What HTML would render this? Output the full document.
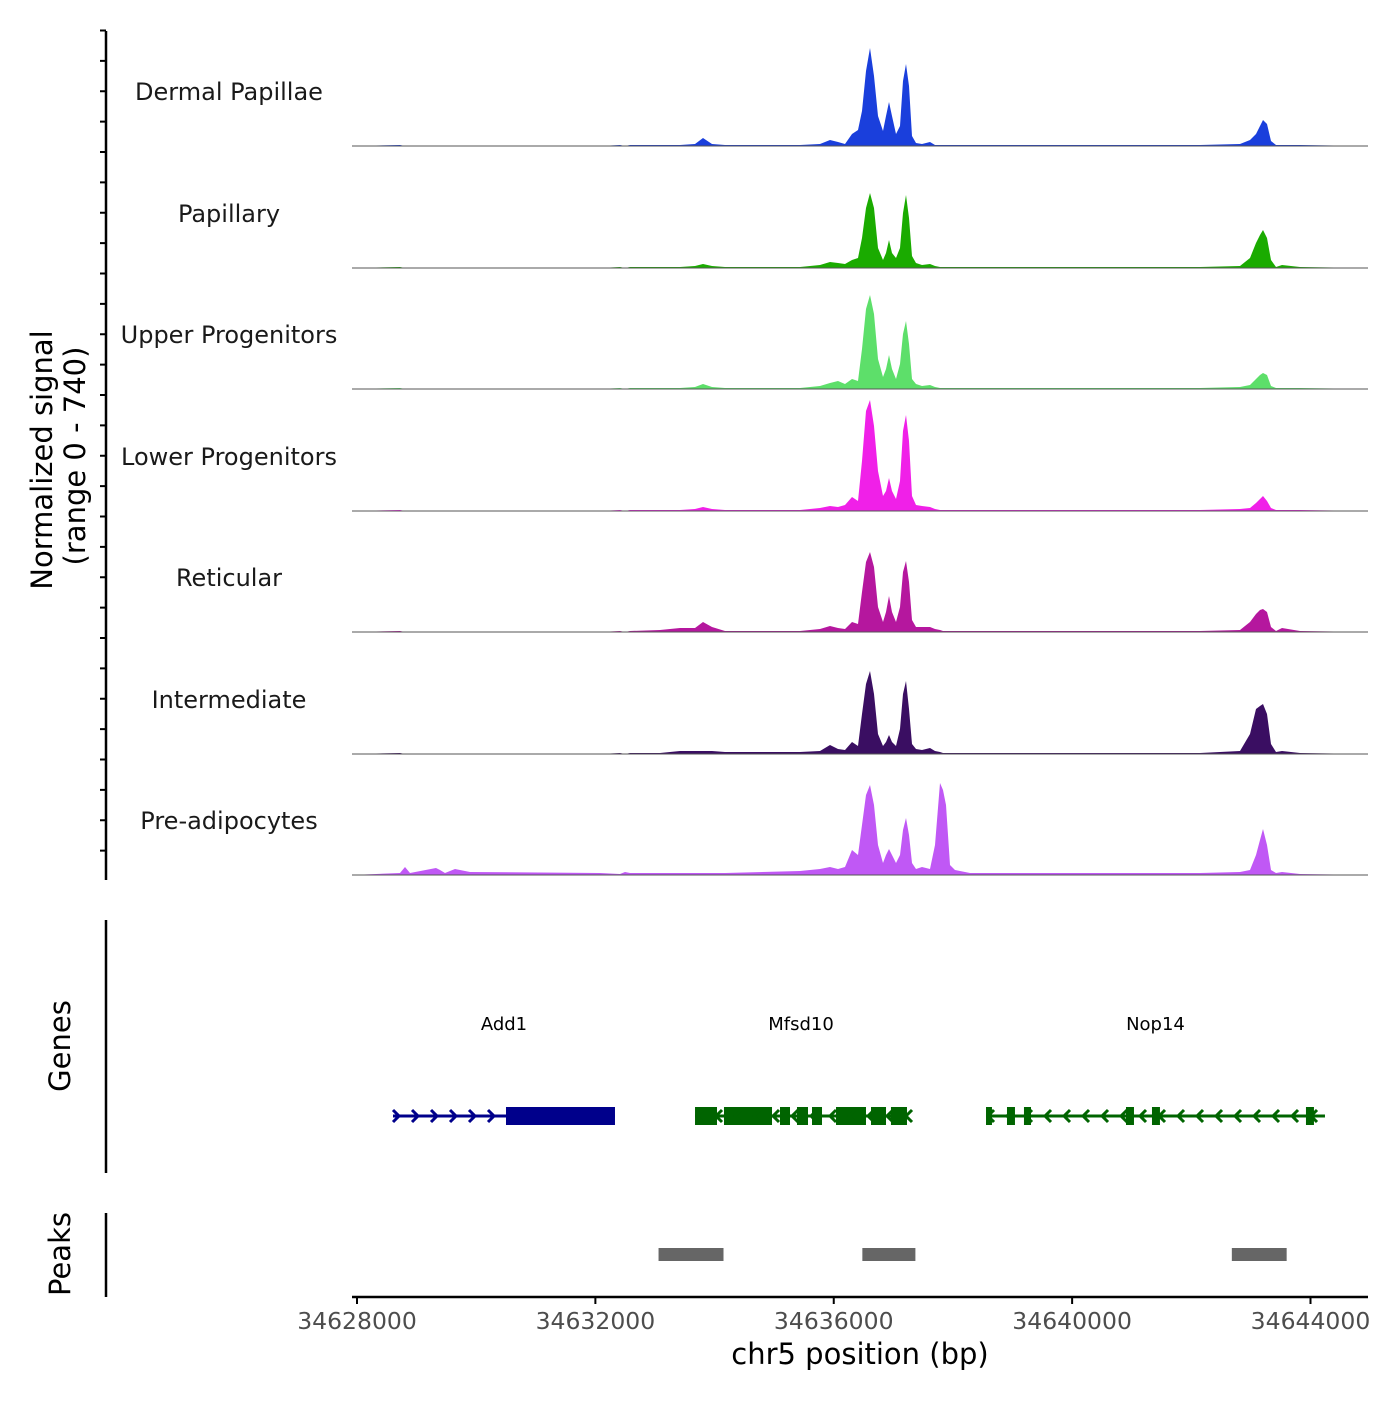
<!DOCTYPE html>
<html><head><meta charset="utf-8">
<style>
html,body{margin:0;padding:0;background:#fff;}
svg text{font-family:"DejaVu Sans","Liberation Sans",sans-serif;}
</style></head>
<body>
<svg id="chart" width="1400" height="1400" viewBox="0 0 1400 1400" xmlns="http://www.w3.org/2000/svg">
<g id="tracks"></g>
<g id="genes"></g>
<g id="peaks"></g>
<g id="axes"></g>
<text transform="translate(52,460) rotate(-90)" text-anchor="middle" font-size="29" fill="#000">Normalized signal</text>
<text transform="translate(85,456) rotate(-90)" text-anchor="middle" font-size="29" fill="#000">(range 0 - 740)</text>
<text transform="translate(70,1046) rotate(-90)" text-anchor="middle" font-size="29" fill="#000">Genes</text>
<text transform="translate(70,1254) rotate(-90)" text-anchor="middle" font-size="29" fill="#000">Peaks</text>
<text x="860" y="1364" text-anchor="middle" font-size="29" fill="#000">chr5 position (bp)</text>
</svg>
<script>
const positions = [34627916,34628722,34628805,34628889,34629326,34629393,34629477,34629644,34629896,34632078,34632413,34632497,34632581,34633084,34633420,34633672,34633806,34633957,34634175,34635434,34635770,34635937,34636071,34636189,34636306,34636407,34636474,34636541,34636608,34636675,34636742,34636826,34636877,34636927,34636977,34637044,34637112,34637162,34637212,34637263,34637313,34637380,34637481,34637615,34637699,34637783,34637833,34637883,34637951,34638034,34638286,34638790,34642146,34642817,34642985,34643085,34643153,34643203,34643270,34643337,34643421,34643522,34643824,34644965];
const trackNames = ["Dermal Papillae","Papillary","Upper Progenitors","Lower Progenitors","Reticular","Intermediate","Pre-adipocytes"];
const trackColors = ["#1a3fdc","#1aab00","#5ddf6a","#f020e8","#b5179e","#3a0e62","#c058f5"];
const dermalPapillae = [0,6,0,0,0,0,0,0,0,0,6,0,6,6,6,12,48,12,6,6,12,36,24,12,72,96,210,450,588,420,180,90,180,264,180,72,120,390,492,360,60,18,12,24,6,6,6,6,6,6,6,6,6,12,36,72,120,156,132,30,6,6,6,0];
const papillary = [0,6,0,0,0,0,0,0,0,0,6,0,6,6,6,12,24,12,6,6,18,36,30,24,48,60,180,360,450,360,120,48,90,168,90,60,120,330,438,300,72,30,18,24,12,6,6,6,6,6,6,6,6,12,60,150,198,228,180,48,6,18,6,0];
const upperProgenitors = [0,6,0,0,0,0,0,0,0,0,6,0,6,6,6,12,30,12,6,6,18,36,48,30,60,48,240,480,564,450,180,72,120,204,120,60,150,330,408,270,60,30,18,24,12,6,6,6,6,6,6,6,6,12,24,60,84,96,84,18,6,6,6,0];
const lowerProgenitors = [0,6,0,0,0,0,0,0,0,0,6,0,6,6,6,12,24,12,6,6,18,30,24,36,84,60,300,600,666,510,240,90,120,198,120,72,180,480,576,420,90,36,30,24,12,6,6,6,6,6,6,6,6,12,18,48,72,90,60,18,6,6,6,0];
const reticular = [0,6,0,0,0,0,0,0,0,0,6,0,6,12,24,24,60,30,6,6,18,36,24,18,60,48,240,420,480,390,150,60,120,216,120,60,150,360,426,300,72,30,30,30,18,12,6,6,6,6,6,6,6,12,60,108,132,138,120,30,6,24,6,0];
const intermediate = [0,6,0,0,0,0,0,0,0,0,6,0,6,6,18,18,18,18,12,12,18,54,30,24,72,48,240,420,498,360,120,48,72,114,72,48,150,360,438,270,60,30,24,36,18,12,6,6,6,6,6,6,6,18,120,270,288,300,240,60,12,18,6,0];
const preAdipocytes = [0,12,48,12,42,30,12,36,18,12,6,18,12,12,12,12,12,12,12,24,36,48,36,48,150,120,300,480,540,420,180,72,120,156,120,72,120,270,342,240,72,36,48,36,180,552,510,420,60,30,12,12,12,18,30,120,210,276,180,30,12,18,6,0];
const trackValues = [dermalPapillae,papillary,upperProgenitors,lowerProgenitors,reticular,intermediate,preAdipocytes];
const xTicks = [34628000,34632000,34636000,34640000,34644000];
const peakStarts = [34633060,34636480,34642680];
const peakEnds = [34634150,34637370,34643600];
const geneNames = ["Add1","Mfsd10","Nop14"];
const geneStarts = [34628604,34633672,34638555];
const geneEnds = [34632329,34637229,34644243];
const geneStrands = [1,-1,-1];
const exonSets = [
  [[34630500,34632329]],
  [[34633672,34634041],[34634158,34634964],[34635098,34635266],[34635383,34635568],[34635635,34635803],[34636038,34636541],[34636625,34636877],[34636960,34637229]],
  [[34638555,34638655],[34638907,34639041],[34639192,34639310],[34640904,34641038],[34641340,34641474],[34643924,34644058]]
];

const NS="http://www.w3.org/2000/svg";
const X0=352,X1=1368,BP0=34627916,BP1=34644965;
function xs(bp){return X0+(bp-BP0)/(BP1-BP0)*(X1-X0);}
const YMAX=740,TH=123.3;
const baselines=[146,268,389,511,632,754,875];
function mk(tag,attrs,parent){const e=document.createElementNS(NS,tag);for(const k in attrs)e.setAttribute(k,attrs[k]);parent.appendChild(e);return e;}

const tracks=document.getElementById('tracks');
trackValues.forEach((vals,i)=>{
  const b=baselines[i];
  let d='M'+xs(positions[0])+','+b;
  vals.forEach((v,j)=>{d+=' L'+xs(positions[j]).toFixed(1)+','+(b-v/YMAX*TH).toFixed(1);});
  d+=' L'+xs(positions[positions.length-1])+','+b+' Z';
  const p=mk('path',{d:d,fill:trackColors[i]},tracks);
  
  
  const l=mk('line',{x1:X0,x2:X1,y1:b,y2:b,stroke:'#555','stroke-width':1},tracks);
  
  
  const t=mk('text',{x:229,y:b-46,'text-anchor':'middle','font-size':24,fill:'#1a1a1a'},tracks);
  t.textContent=trackNames[i];
  
  
});

const axes=document.getElementById('axes');
function line(x1,y1,x2,y2,w,c,name){const l=mk('line',{x1,y1,x2,y2,stroke:c||'#000','stroke-width':w||2},axes);return l;}
line(106,31,106,880,2.5,'#000','signal-y-axis-line');
for(let y=146-121.5+6;y<=880;y+=30.375){line(100,y,106,y,2,'#000','y-tick');}
line(106,920,106,1173,2.5,'#000','genes-axis-line');
line(106,1213,106,1297,2.5,'#000','peaks-axis-line');
line(352,1297,1368,1297,2.5,'#000','x-axis-line');
xTicks.forEach(v=>{
  const x=xs(v);
  line(x,1297,x,1304,2,'#000','x-tick');
  const t=mk('text',{x:x,y:1329,'text-anchor':'middle','font-size':23.5,fill:'#4d4d4d'},axes);
  t.textContent=String(v);
  
  
});

const peaks=document.getElementById('peaks');
peakStarts.forEach((s,i)=>{
  const r=mk('rect',{x:xs(s),y:1248,width:xs(peakEnds[i])-xs(s),height:13,fill:'#666'},peaks);
  
  
});

const genes=document.getElementById('genes');
const GY=1116;
const geneColors=["#00008b","#006400","#006400"];
geneNames.forEach((n,i)=>{
  const c=geneColors[i];
  const x1=xs(geneStarts[i]),x2=xs(geneEnds[i]);
  const g=mk('g',{},genes);
  
  
  mk('line',{x1:x1,x2:x2,y1:GY,y2:GY,stroke:c,'stroke-width':3},g);
  exonSets[i].forEach(e=>{mk('rect',{x:xs(e[0]),y:GY-9,width:xs(e[1])-xs(e[0]),height:18,fill:c},g);});
  const dir=geneStrands[i];
  const endA=dir>0?xs(exonSets[i][0][0]):x2+6;
  for(let x=x1+4;x<endA-4;x+=19){
    mk('path',{d:dir>0?`M${x-4},${GY-6} L${x+2},${GY} L${x-4},${GY+6}`:`M${x+4},${GY-6} L${x-2},${GY} L${x+4},${GY+6}`,stroke:c,'stroke-width':3,fill:'none'},g);
  }
  const t=mk('text',{x:(x1+x2)/2,y:1030,'text-anchor':'middle','font-size':18,fill:'#000'},g);
  t.textContent=n;
  
  
});
</script>
</body></html>
